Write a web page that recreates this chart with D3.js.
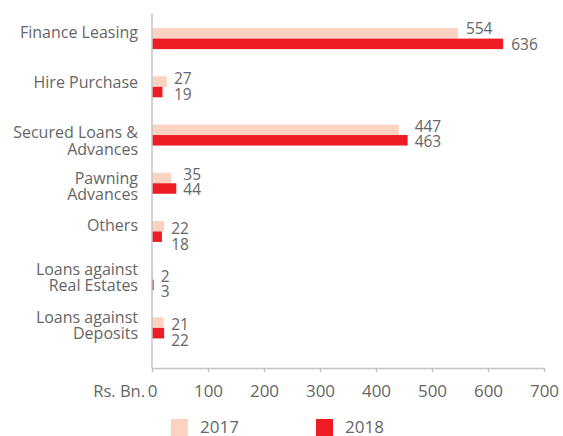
<!DOCTYPE html>
<html><head><meta charset="utf-8">
<script src="https://cdn.jsdelivr.net/npm/d3@7"></script>
<style>body{margin:0;background:#fff}text{font-family:"Open Sans",Lato,sans-serif}</style>
</head><body><svg id="c" width="563" height="436"></svg>
<script>
const categories = [["Finance Leasing"],["Hire Purchase"],["Secured Loans &","Advances"],["Pawning","Advances"],["Others"],["Loans against","Real Estates"],["Loans against","Deposits"]];
const values2017 = [554, 27, 447, 35, 22, 2, 21];
const values2018 = [636, 19, 463, 44, 18, 3, 22];
const seriesNames = ["2017", "2018"];
const seriesColors = ["#FCD2C0", "#EE1C25"];
const xTicks = [0,100,200,300,400,500,600,700];

// layout tweaks (hand-placed text in the original)
const valueLabelShift = [-4.5, -2.5, -3.3, -3.5, 2.7, 2.3, 2.3];
const catLabelShift = [-1, 1.3, 3.3, 0.5, 0, -5, -5];

const svg = d3.select("#c");
const x = d3.scaleLinear().domain([0,700]).range([152,544]);
// the original draws its bars slightly shorter than its axis
const xBar = x.copy().range([152, 538.5]);
const y = d3.scaleBand().domain(d3.range(categories.length)).range([14.5,352]);
const barH = 10.5;
const series = [values2017, values2018];
const grey = "#666";

// bars
series.forEach((vals, si) => {
  svg.append("g").selectAll("rect").data(vals).join("rect")
    .attr("x", xBar(0))
    .attr("y", (d,i) => y(i) + y.bandwidth()/2 - barH + si*barH)
    .attr("width", d => xBar(d) - xBar(0))
    .attr("height", barH)
    .attr("fill", seriesColors[si]);
  svg.append("g").selectAll("text").data(vals).join("text")
    .attr("x", (d,i) => {
      const a = values2017[i], b = values2018[i];
      return Math.abs(a-b) < 20 ? xBar(Math.max(a,b)) + 7 : xBar(d) + 8;
    })
    .attr("y", (d,i) => y(i) + y.bandwidth()/2 + valueLabelShift[i] + (si === 0 ? 0 : 15.5))
    .attr("font-size", 15.5).attr("fill", grey)
    .text(d => d);
});

// axes
const axis = svg.append("g").attr("transform","translate(0,368)")
  .call(d3.axisBottom(x).tickValues(xTicks).tickSize(4).tickSizeOuter(0));
axis.select(".domain").attr("stroke","#c4c4c4").attr("stroke-width",1.5);
axis.selectAll(".tick line").attr("stroke","#c4c4c4").attr("stroke-width",1.5);
axis.selectAll(".tick text").attr("font-size",17).attr("fill",grey).attr("dy",0).attr("y",28.5)
  .style("font-family","'Open Sans',Lato,sans-serif");
svg.append("line").attr("x1",x(0)).attr("x2",x(0)).attr("y1",13).attr("y2",368)
  .attr("stroke","#c4c4c4").attr("stroke-width",1.5);
svg.append("text").attr("x",145).attr("y",396.5).attr("text-anchor","end")
  .attr("font-size",16.5).attr("fill",grey).text("Rs. Bn.");

// category labels
categories.forEach((lines, i) => {
  const c = y(i) + y.bandwidth()/2 + catLabelShift[i];
  const t = svg.append("text").attr("text-anchor","end").attr("font-size",16).attr("fill",grey);
  if (lines.length === 1) {
    t.append("tspan").attr("x",138).attr("y",c).text(lines[0]);
  } else {
    t.append("tspan").attr("x",138).attr("y",c).text(lines[0]);
    t.append("tspan").attr("x",138).attr("y",c + 16.5).text(lines[1]);
  }
});

// legend
const lx = [171, 316];
seriesNames.forEach((n, i) => {
  svg.append("rect").attr("x",lx[i]).attr("y",419).attr("width",17).attr("height",17).attr("fill",seriesColors[i]);
  svg.append("text").attr("x",lx[i]+29).attr("y",432.5).attr("font-size",17).attr("fill",grey).text(n);
});
</script></body></html>
